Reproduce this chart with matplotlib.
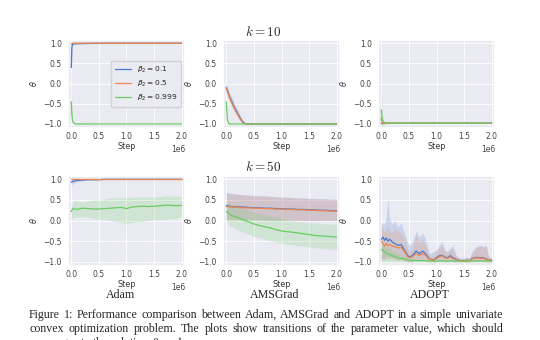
import matplotlib
matplotlib.use('Agg')
import matplotlib.pyplot as plt
import seaborn as sns
import numpy as np

# ---- data (steps in units of 1e6) ----
labels = [r'$\beta_2 = 0.1$', r'$\beta_2 = 0.5$', r'$\beta_2 = 0.999$']
row_titles = [r'$k = 10$', r'$k = 50$']
col_titles = ['Adam', 'AMSGrad', 'ADOPT']

# k=10, Adam
a10_x = [0, 0.01, 0.02, 0.04, 0.07, 0.1, 0.5, 1.0, 1.5, 2.0]
a10_mean = [[0.40, 0.90, 0.97, 0.98, 0.99, 0.99, 1.0, 1.0, 1.0, 1.0],
            [0.98, 0.99, 1.0, 1.0, 1.0, 1.0, 1.0, 1.0, 1.0, 1.0],
            [-0.45, -0.75, -0.90, -0.97, -1.0, -1.0, -1.0, -1.0, -1.0, -1.0]]
a10_sd = [[0.40, 0.08, 0.03, 0.02, 0.01, 0.01, 0.01, 0.0, 0.0, 0.0],
          [0.02, 0.01, 0.0, 0.0, 0.0, 0.0, 0.0, 0.0, 0.0, 0.0],
          [0.45, 0.12, 0.05, 0.02, 0.01, 0.01, 0.0, 0.0, 0.0, 0.0]]

# k=10, AMSGrad
m10_x = [0, 0.02, 0.05, 0.1, 0.15, 0.2, 0.25, 0.3, 0.35, 0.4, 1.0, 1.5, 2.0]
m10_mean = [[-0.10, -0.17, -0.30, -0.45, -0.60, -0.72, -0.85, -0.95, -1.0, -1.0, -1.0, -1.0, -1.0],
            [-0.12, -0.20, -0.32, -0.48, -0.62, -0.75, -0.87, -0.97, -1.0, -1.0, -1.0, -1.0, -1.0],
            [-0.45, -0.90, -1.0, -1.0, -1.0, -1.0, -1.0, -1.0, -1.0, -1.0, -1.0, -1.0, -1.0]]
m10_sd = [[0.12, 0.10, 0.10, 0.10, 0.10, 0.09, 0.07, 0.04, 0.01, 0.0, 0.0, 0.0, 0.0],
          [0.10, 0.09, 0.09, 0.09, 0.08, 0.07, 0.05, 0.03, 0.01, 0.0, 0.0, 0.0, 0.0],
          [0.05, 0.04, 0.01, 0.0, 0.0, 0.0, 0.0, 0.0, 0.0, 0.0, 0.0, 0.0, 0.0]]

# k=10, ADOPT
d10_x = [0, 0.01, 0.02, 0.04, 0.06, 0.1, 0.2, 0.5, 1.0, 1.5, 2.0]
d10_mean = [[-0.99, -0.99, -0.99, -0.98, -0.98, -0.98, -0.98, -0.98, -0.98, -0.98, -0.98],
            [-0.85, -0.95, -0.98, -0.99, -0.99, -0.98, -0.98, -0.98, -0.98, -0.98, -0.98],
            [-0.65, -0.80, -0.90, -0.95, -0.97, -0.98, -0.98, -0.98, -0.98, -0.98, -0.98]]
d10_sd = [[0.02, 0.01, 0.01, 0.0, 0.0, 0.0, 0.0, 0.0, 0.0, 0.0, 0.0],
          [0.15, 0.05, 0.03, 0.02, 0.02, 0.02, 0.01, 0.01, 0.01, 0.01, 0.01],
          [0.65, 0.30, 0.15, 0.06, 0.03, 0.02, 0.01, 0.01, 0.01, 0.01, 0.01]]

# k=50, Adam
a50_x = [0, 0.03, 0.06, 0.1, 0.2, 0.3, 0.4, 0.5, 0.6, 0.7, 0.8, 0.9, 1.0,
         1.1, 1.2, 1.3, 1.4, 1.5, 1.6, 1.7, 1.8, 1.9, 2.0]
a50_mean = [[0.93, 0.95, 0.96, 0.97, 0.98, 0.99, 0.99, 0.99, 1.0, 1.0, 1.0, 1.0, 1.0,
             1.0, 1.0, 1.0, 1.0, 1.0, 1.0, 1.0, 1.0, 1.0, 1.0],
            [1.0] * 23,
            [0.22, 0.30, 0.28, 0.27, 0.30, 0.29, 0.28, 0.28, 0.29, 0.30, 0.31, 0.32, 0.29,
             0.33, 0.34, 0.35, 0.34, 0.35, 0.36, 0.37, 0.37, 0.36, 0.37]]
a50_lo = [[0.85, 0.90, 0.92, 0.94, 0.96, 0.98, 0.98, 0.98, 0.99, 0.99, 0.99, 0.99, 0.99,
           0.99, 0.99, 0.99, 0.99, 0.99, 0.99, 0.99, 0.99, 0.99, 0.99],
          [0.99] * 23,
          [0.05, 0.05, 0.10, 0.08, 0.10, 0.08, 0.05, 0.03, 0.02, 0.0, -0.02, -0.05, -0.08,
           -0.05, -0.03, -0.02, 0.0, 0.02, 0.02, 0.03, 0.04, 0.05, 0.10]]
a50_hi = [[1.0] * 23,
          [1.0] * 23,
          [0.30, 0.45, 0.50, 0.48, 0.45, 0.48, 0.50, 0.50, 0.52, 0.55, 0.55, 0.56, 0.55,
           0.57, 0.58, 0.58, 0.57, 0.57, 0.58, 0.60, 0.60, 0.59, 0.58]]

# k=50, AMSGrad
m50_x = [0, 0.05, 0.1, 0.2, 0.3, 0.4, 0.5, 0.6, 0.7, 0.8, 0.9, 1.0,
         1.1, 1.2, 1.3, 1.4, 1.5, 1.6, 1.7, 1.8, 1.9, 2.0]
m50_mean = [[0.36, 0.35, 0.34, 0.33, 0.33, 0.32, 0.31, 0.31, 0.30, 0.30, 0.29, 0.29,
             0.28, 0.28, 0.27, 0.27, 0.26, 0.26, 0.25, 0.25, 0.24, 0.24],
            [0.34, 0.33, 0.33, 0.32, 0.31, 0.31, 0.30, 0.30, 0.29, 0.29, 0.28, 0.28,
             0.27, 0.27, 0.26, 0.26, 0.25, 0.25, 0.24, 0.24, 0.23, 0.23],
            [0.22, 0.17, 0.12, 0.08, 0.02, -0.03, -0.08, -0.12, -0.15, -0.18, -0.22, -0.25,
             -0.27, -0.28, -0.30, -0.32, -0.34, -0.36, -0.37, -0.38, -0.39, -0.40]]
m50_lo = [[0.03, 0.03, 0.03, 0.02, 0.02, 0.02, 0.02, 0.02, 0.01, 0.01, 0.01, 0.01,
           0.01, 0.01, 0.01, 0.0, 0.0, 0.0, 0.0, 0.0, 0.0, 0.0],
          [0.02, 0.02, 0.02, 0.02, 0.02, 0.02, 0.01, 0.01, 0.01, 0.01, 0.01, 0.01,
           0.01, 0.01, 0.0, 0.0, 0.0, 0.0, 0.0, 0.0, 0.0, 0.0],
          [0.0, -0.10, -0.15, -0.22, -0.28, -0.33, -0.38, -0.42, -0.46, -0.49, -0.52, -0.55,
           -0.57, -0.59, -0.61, -0.62, -0.64, -0.66, -0.67, -0.68, -0.69, -0.70]]
m50_hi = [[0.68, 0.67, 0.66, 0.64, 0.63, 0.62, 0.61, 0.60, 0.60, 0.59, 0.58, 0.57,
           0.57, 0.56, 0.55, 0.55, 0.54, 0.54, 0.53, 0.53, 0.52, 0.52],
          [0.66, 0.65, 0.64, 0.63, 0.62, 0.61, 0.60, 0.59, 0.59, 0.58, 0.57, 0.56,
           0.56, 0.55, 0.54, 0.54, 0.53, 0.53, 0.52, 0.52, 0.51, 0.51],
          [0.45, 0.42, 0.38, 0.33, 0.28, 0.24, 0.20, 0.17, 0.14, 0.11, 0.08, 0.05,
           0.02, 0.0, -0.02, -0.04, -0.05, -0.06, -0.07, -0.08, -0.09, -0.10]]

# k=50, ADOPT
d50_x = [0, 0.03, 0.06, 0.09, 0.12, 0.15, 0.2, 0.24, 0.3, 0.36, 0.42, 0.48, 0.52, 0.57,
         0.63, 0.69, 0.75, 0.8, 0.87, 0.95, 1.0, 1.05, 1.1, 1.15, 1.2, 1.25, 1.3,
         1.36, 1.43, 1.5, 1.55, 1.6, 1.64, 1.7, 1.73, 1.8, 1.85, 1.9, 1.94, 2.0]
d50_mean = [[-0.45, -0.40, -0.48, -0.42, -0.50, -0.45, -0.52, -0.55, -0.60, -0.58, -0.72,
             -0.85, -0.88, -0.84, -0.74, -0.80, -0.74, -0.80, -0.93, -0.95, -0.90, -0.85,
             -0.84, -0.88, -0.90, -0.85, -0.90, -0.94, -0.97, -0.97, -0.96, -0.97, -0.92,
             -0.90, -0.89, -0.90, -0.90, -0.93, -0.95, -0.97],
            [-0.50, -0.55, -0.62, -0.55, -0.60, -0.58, -0.62, -0.63, -0.66, -0.65, -0.75,
             -0.88, -0.90, -0.87, -0.80, -0.84, -0.80, -0.84, -0.94, -0.96, -0.92, -0.88,
             -0.85, -0.90, -0.91, -0.88, -0.92, -0.95, -0.97, -0.98, -0.97, -0.97, -0.93,
             -0.91, -0.90, -0.91, -0.91, -0.94, -0.95, -0.96],
            [-0.70, -0.72, -0.76, -0.80, -0.80, -0.82, -0.85, -0.87, -0.90, -0.92, -0.93,
             -0.95, -0.96, -0.96, -0.97, -0.97, -0.97, -0.97, -0.98, -0.98, -0.98, -0.98,
             -0.98, -0.98, -0.98, -0.98, -0.98, -0.98, -0.98, -0.98, -0.98, -0.98, -0.98,
             -0.98, -0.98, -0.98, -0.98, -0.98, -0.98, -0.98]]
d50_lo = [[-0.95, -0.90, -0.95, -0.85, -0.90, -0.88, -0.90, -0.92, -0.95, -0.92, -0.97,
           -1.0, -1.0, -1.0, -0.95, -0.97, -0.95, -0.97, -1.0, -1.0, -1.0, -0.98,
           -0.98, -1.0, -1.0, -0.98, -1.0, -1.0, -1.0, -1.0, -1.0, -1.0, -0.99,
           -0.98, -0.98, -0.98, -0.98, -1.0, -1.0, -1.0],
          [-0.95, -0.95, -0.97, -0.92, -0.95, -0.93, -0.95, -0.95, -0.97, -0.95, -0.98,
           -1.0, -1.0, -1.0, -0.97, -0.98, -0.97, -0.98, -1.0, -1.0, -1.0, -0.99,
           -0.99, -1.0, -1.0, -0.99, -1.0, -1.0, -1.0, -1.0, -1.0, -1.0, -0.99,
           -0.99, -0.99, -0.99, -0.99, -1.0, -1.0, -1.0],
          [-1.0] * 40]
d50_hi = [[-0.10, -0.05, -0.10, 0.10, 0.55, 0.05, -0.10, 0.00, -0.15, -0.05, -0.30,
           -0.55, -0.60, -0.50, -0.25, -0.40, -0.30, -0.45, -0.80, -0.75, -0.70, -0.60,
           -0.50, -0.70, -0.75, -0.65, -0.60, -0.85, -0.90, -0.90, -0.88, -0.90, -0.75,
           -0.65, -0.62, -0.60, -0.62, -0.60, -0.85, -0.92],
          [-0.10, -0.20, -0.30, -0.20, -0.10, -0.25, -0.30, -0.20, -0.25, -0.30, -0.45,
           -0.70, -0.75, -0.65, -0.35, -0.55, -0.45, -0.60, -0.85, -0.85, -0.75, -0.65,
           -0.60, -0.75, -0.80, -0.70, -0.70, -0.88, -0.92, -0.93, -0.90, -0.92, -0.80,
           -0.70, -0.65, -0.62, -0.65, -0.62, -0.87, -0.92],
          [-0.50, -0.55, -0.60, -0.65, -0.62, -0.68, -0.72, -0.75, -0.80, -0.84, -0.86,
           -0.90, -0.92, -0.92, -0.94, -0.94, -0.95, -0.95, -0.96, -0.96, -0.96, -0.96,
           -0.96, -0.96, -0.96, -0.96, -0.96, -0.96, -0.96, -0.96, -0.96, -0.96, -0.96,
           -0.96, -0.96, -0.96, -0.96, -0.96, -0.96, -0.96]]

caption = [
    'Figure 1: Performance comparison between Adam, AMSGrad and ADOPT in a simple univariate',
    'convex optimization problem.  The plots show transitions of the parameter value, which should',
    r'converges to the solution $\theta = -1$.',
]


def band(mean, sd):
    m = np.array(mean)
    s = np.array(sd)
    return m - s, m + s


sns.set_theme(style='darkgrid')
plt.rcParams['font.family'] = ['DejaVu Sans']
colors = sns.color_palette('muted')[:3]

fig = plt.figure(figsize=(5.4, 3.4), dpi=100)

lefts = [68 / 540, 223 / 540, 378 / 540]
w = 117 / 540
rows = [(1 - 128 / 340, 88 / 340), (1 - 266 / 340, 90 / 340)]

# collect every panel: x, means, lower band, upper band
data = {}
lo, hi = zip(*[band(m, s) for m, s in zip(a10_mean, a10_sd)])
data[(0, 0)] = (a10_x, a10_mean, lo, hi)
lo, hi = zip(*[band(m, s) for m, s in zip(m10_mean, m10_sd)])
data[(0, 1)] = (m10_x, m10_mean, lo, hi)
lo, hi = zip(*[band(m, s) for m, s in zip(d10_mean, d10_sd)])
data[(0, 2)] = (d10_x, d10_mean, lo, hi)
data[(1, 0)] = (a50_x, a50_mean, a50_lo, a50_hi)
data[(1, 1)] = (m50_x, m50_mean, m50_lo, m50_hi)
data[(1, 2)] = (d50_x, d50_mean, d50_lo, d50_hi)

for r, (bottom, h) in enumerate(rows):
    for c in range(3):
        ax = fig.add_axes([lefts[c], bottom, w, h])
        x, means, los, his = data[(r, c)]
        xs = np.array(x) * 1e6
        for i in range(3):
            ax.fill_between(xs, los[i], his[i], color=colors[i], alpha=0.2, linewidth=0)
            ax.plot(xs, means[i], color=colors[i], linewidth=0.9, label=labels[i])
        ax.set_ylim(-1.1, 1.08)
        ax.set_xlim(-0.06e6, 2.06e6)
        ax.set_yticks([-1.0, -0.5, 0.0, 0.5, 1.0])
        ax.set_xticks([0, 0.5e6, 1.0e6, 1.5e6, 2.0e6])
        ax.tick_params(axis='both', length=0, labelsize=5.5, colors='#444444')
        ax.tick_params(axis='x', pad=3)
        ax.tick_params(axis='y', pad=4.5)
        ax.xaxis.get_offset_text().set_fontsize(5.5)
        ax.xaxis.get_offset_text().set_color('#444444')
        ax.set_xlabel('Step', fontsize=5.8, labelpad=0.3, color='#333333')
        ax.set_ylabel(r'$\theta$', fontsize=5.8, labelpad=3, color='#333333')
        ax.grid(linewidth=0.6)
        if r == 0 and c == 0:
            ax.legend(loc='center right', fontsize=5.4, handlelength=2.2,
                      borderpad=0.5, labelspacing=0.5, framealpha=0.8)

# row titles and column names
fig.text(0.487, 0.906, row_titles[0], fontsize=9.5, ha='center', va='center',
         math_fontfamily='cm')
fig.text(0.487, 0.508, row_titles[1], fontsize=9.5, ha='center', va='center',
         math_fontfamily='cm')
for c, name in enumerate(col_titles):
    fig.text(lefts[c] + w / 2 - 0.012, 0.133, name, fontsize=8.6, ha='center', va='center',
             family='Liberation Serif')

# justified caption
fig.canvas.draw()
renderer = fig.canvas.get_renderer()
x0, x1 = 29 / 540, 503 / 540
ys = [0.073, 0.032, -0.01]
for k, line in enumerate(caption):
    if k < 2:
        words = line.split()
        objs = [fig.text(0, ys[k], wd, fontsize=8.6, family='Liberation Serif',
                         va='center', math_fontfamily='stix') for wd in words]
        widths = [o.get_window_extent(renderer).width / fig.bbox.width for o in objs]
        gap = (x1 - x0 - sum(widths)) / (len(words) - 1)
        pos = x0
        for o, wd in zip(objs, widths):
            o.set_x(pos)
            pos += wd + gap
    else:
        fig.text(x0, ys[k], line, fontsize=8.6, family='Liberation Serif',
                 va='center', math_fontfamily='stix')

fig.savefig('out.png', dpi=100)
